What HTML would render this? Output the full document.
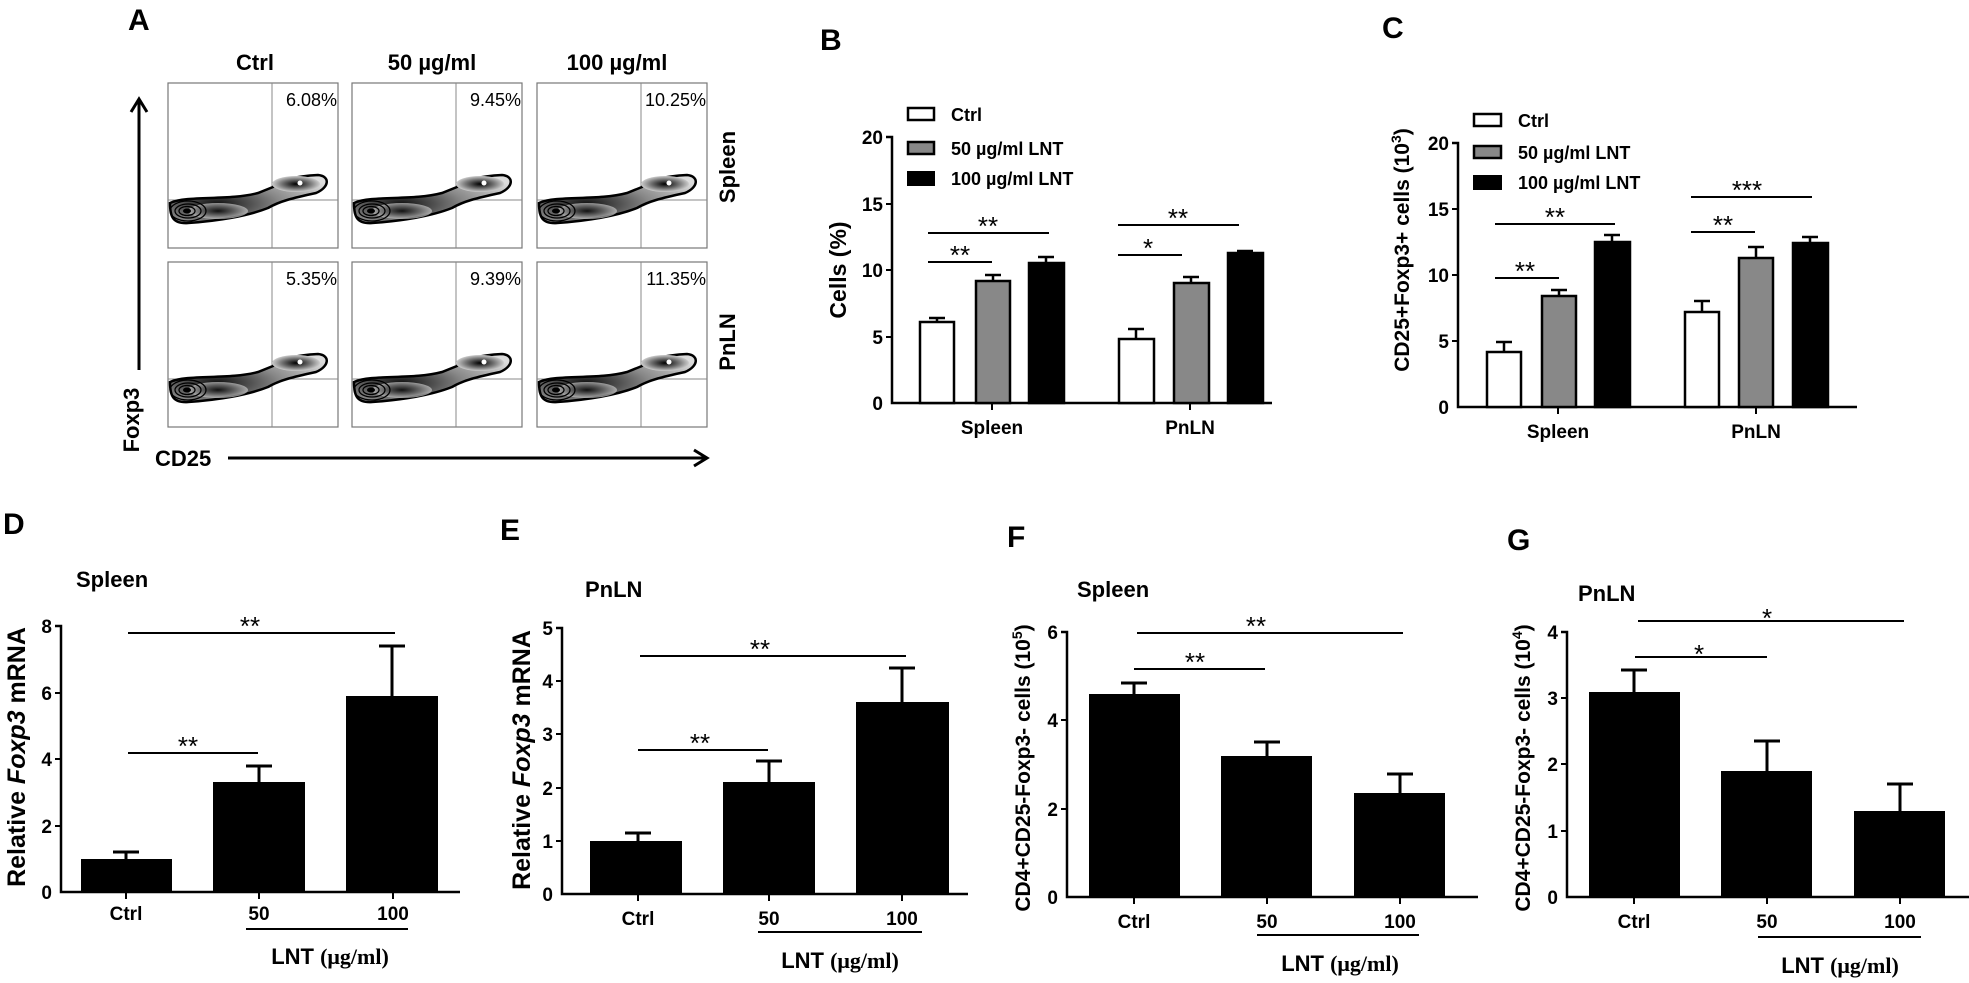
<!DOCTYPE html>
<html><head><meta charset="utf-8"><style>
html,body{margin:0;padding:0;background:#fff;}
svg{display:block;font-family:"Liberation Sans",Arial,sans-serif;}
.t{font-weight:bold;font-size:19px;}
.lg{font-weight:bold;font-size:18px;}
.ax{stroke:#000;stroke-width:2.5;fill:none;}
.br{stroke:#000;stroke-width:2;}
.lt{font-weight:bold;font-size:30px;}
.st{font-size:25px;font-weight:bold;}
.yl{font-size:21px;font-weight:bold;}
.ti{font-size:22px;font-weight:bold;}
</style></head><body>
<svg width="1969" height="983" viewBox="0 0 1969 983" xmlns="http://www.w3.org/2000/svg">
<defs>
<radialGradient id="g1" cx="0.3" cy="0.6" r="0.8"><stop offset="0" stop-color="#111"/><stop offset="0.5" stop-color="#888"/><stop offset="1" stop-color="#ddd"/></radialGradient>
<radialGradient id="g2" cx="0.5" cy="0.5" r="0.5"><stop offset="0" stop-color="#000"/><stop offset="0.6" stop-color="#777"/><stop offset="1" stop-color="#ccc"/></radialGradient>
<g id="blob">
<path d="M2,120 C20,112 60,118 90,110 L105,104 C110,97 130,93 150,92 C162,93 162,104 148,110 C125,115 112,118 100,125 C80,133 50,138 20,140 C5,141 2,134 2,120 Z" fill="url(#g1)" stroke="#000" stroke-width="2.5"/>
<ellipse cx="128" cy="101" rx="24" ry="8" fill="url(#g2)"/>
<circle cx="132" cy="100" r="2.5" fill="#fff"/>
<ellipse cx="50" cy="128" rx="30" ry="8" fill="url(#g2)" opacity="0.7"/>
<g fill="none" stroke="#000" stroke-width="1.3">
<ellipse cx="20" cy="128" rx="18" ry="10"/><ellipse cx="20" cy="128" rx="13" ry="7"/><ellipse cx="19" cy="128" rx="8" ry="4.5"/></g>
<ellipse cx="19" cy="128" rx="4" ry="2.5" fill="#000"/>
</g>
<g id="box">
<rect x="0" y="0" width="170" height="165" fill="none" stroke="#777" stroke-width="1.2"/>
<line x1="104" y1="0" x2="104" y2="165" stroke="#888" stroke-width="1"/>
<line x1="0" y1="117" x2="170" y2="117" stroke="#888" stroke-width="1"/>
<use href="#blob"/>
</g>
</defs>

<!-- Panel A -->
<text x="128" y="30" class="lt">A</text>
<text x="255" y="70" class="ti" text-anchor="middle">Ctrl</text>
<text x="432" y="70" class="ti" text-anchor="middle">50 µg/ml</text>
<text x="617" y="70" class="ti" text-anchor="middle">100 µg/ml</text>
<use href="#box" x="168" y="83"/>
<use href="#box" x="352" y="83"/>
<use href="#box" x="537" y="83"/>
<use href="#box" x="168" y="262"/>
<use href="#box" x="352" y="262"/>
<use href="#box" x="537" y="262"/>
<g font-size="18" text-anchor="end">
<text x="337" y="106">6.08%</text><text x="521" y="106">9.45%</text><text x="706" y="106">10.25%</text>
<text x="337" y="285">5.35%</text><text x="521" y="285">9.39%</text><text x="706" y="285">11.35%</text>
</g>
<text transform="translate(735,167) rotate(-90)" class="ti" text-anchor="middle">Spleen</text>
<text transform="translate(735,342) rotate(-90)" class="ti" text-anchor="middle">PnLN</text>
<line x1="139" y1="370" x2="139" y2="102" stroke="#000" stroke-width="3"/>
<polyline points="131,112 139,99 147,112" fill="none" stroke="#000" stroke-width="3"/>
<text transform="translate(139,420) rotate(-90)" class="ti" text-anchor="middle">Foxp3</text>
<text x="155" y="466" class="ti">CD25</text>
<line x1="228" y1="458" x2="705" y2="458" stroke="#000" stroke-width="3"/>
<polyline points="694,450 707,458 694,466" fill="none" stroke="#000" stroke-width="3"/>

<!-- Panel B -->
<text x="820" y="50" class="lt">B</text>
<rect x="908" y="108" width="26" height="12" fill="#fff" stroke="#000" stroke-width="2.5"/>
<rect x="908" y="142" width="26" height="12" fill="#888" stroke="#000" stroke-width="2.5"/>
<rect x="907" y="171" width="28" height="15" fill="#000"/>
<text x="951" y="121" class="lg">Ctrl</text>
<text x="951" y="155" class="lg">50 µg/ml LNT</text>
<text x="951" y="185" class="lg">100 µg/ml LNT</text>
<polyline class="ax" points="886,137 892,137 892,403 1272,403"/>
<g class="br"><line x1="886" y1="204" x2="892" y2="204"/><line x1="886" y1="270" x2="892" y2="270"/><line x1="886" y1="337" x2="892" y2="337"/><line x1="992" y1="403" x2="992" y2="410"/><line x1="1190" y1="403" x2="1190" y2="410"/></g>
<g class="t" text-anchor="end"><text x="883" y="144">20</text><text x="883" y="211">15</text><text x="883" y="277">10</text><text x="883" y="344">5</text><text x="883" y="410">0</text></g>
<text transform="translate(846,270) rotate(-90)" class="t" text-anchor="middle" style="font-size:23px">Cells (%)</text>
<text x="992" y="434" class="t" text-anchor="middle">Spleen</text>
<text x="1190" y="434" class="t" text-anchor="middle">PnLN</text>
<g stroke="#000" stroke-width="2.5">
<rect x="920" y="322" width="34" height="81" fill="#fff"/><rect x="976" y="281" width="34" height="122" fill="#888"/><rect x="1029" y="263" width="35" height="140" fill="#000"/>
<rect x="1119" y="339" width="35" height="64" fill="#fff"/><rect x="1174" y="283" width="35" height="120" fill="#888"/><rect x="1228" y="253" width="35" height="150" fill="#000"/>
<path d="M937,322V318M929,318H945 M993,281V275M985,275H1001 M1046,263V257M1038,257H1054 M1136,339V329M1128,329H1144 M1191,283V277M1183,277H1199 M1245,253V251M1237,251H1253" fill="none"/>
</g>
<g class="br"><line x1="928" y1="233" x2="1049" y2="233"/><line x1="928" y1="262" x2="992" y2="262"/><line x1="1118" y1="225" x2="1239" y2="225"/><line x1="1118" y1="255" x2="1182" y2="255"/></g>
<g font-size="26" text-anchor="middle"><text x="988" y="235">**</text><text x="960" y="264">**</text><text x="1178" y="227">**</text><text x="1148" y="257">*</text></g>

<!-- Panel C -->
<text x="1382" y="38" class="lt">C</text>
<rect x="1474" y="114" width="27" height="12" fill="#fff" stroke="#000" stroke-width="2.5"/>
<rect x="1474" y="146" width="27" height="12" fill="#888" stroke="#000" stroke-width="2.5"/>
<rect x="1473" y="175" width="29" height="15" fill="#000"/>
<text x="1518" y="127" class="lg">Ctrl</text>
<text x="1518" y="159" class="lg">50 µg/ml LNT</text>
<text x="1518" y="189" class="lg">100 µg/ml LNT</text>
<polyline class="ax" points="1452,143 1458,143 1458,407 1857,407"/>
<g class="br"><line x1="1452" y1="209" x2="1458" y2="209"/><line x1="1452" y1="275" x2="1458" y2="275"/><line x1="1452" y1="341" x2="1458" y2="341"/><line x1="1558" y1="407" x2="1558" y2="414"/><line x1="1756" y1="407" x2="1756" y2="414"/></g>
<g class="t" text-anchor="end"><text x="1449" y="150">20</text><text x="1449" y="216">15</text><text x="1449" y="282">10</text><text x="1449" y="348">5</text><text x="1449" y="414">0</text></g>
<text transform="translate(1409,250) rotate(-90)" class="yl" text-anchor="middle">CD25+Foxp3+ cells  (10<tspan dy="-8" font-size="14">3</tspan><tspan dy="8">)</tspan></text>
<text x="1558" y="438" class="t" text-anchor="middle">Spleen</text>
<text x="1756" y="438" class="t" text-anchor="middle">PnLN</text>
<g stroke="#000" stroke-width="2.5">
<rect x="1487" y="352" width="34" height="55" fill="#fff"/><rect x="1542" y="296" width="34" height="111" fill="#888"/><rect x="1595" y="242" width="35" height="165" fill="#000"/>
<rect x="1685" y="312" width="34" height="95" fill="#fff"/><rect x="1739" y="258" width="34" height="149" fill="#888"/><rect x="1793" y="243" width="35" height="164" fill="#000"/>
<path d="M1504,352V342M1496,342H1512 M1559,296V290M1551,290H1567 M1612,242V235M1604,235H1620 M1702,312V301M1694,301H1710 M1756,258V247M1748,247H1764 M1810,243V237M1802,237H1818" fill="none"/>
</g>
<g class="br"><line x1="1495" y1="224" x2="1615" y2="224"/><line x1="1495" y1="278" x2="1559" y2="278"/><line x1="1691" y1="197" x2="1812" y2="197"/><line x1="1691" y1="232" x2="1755" y2="232"/></g>
<g font-size="26" text-anchor="middle"><text x="1555" y="226">**</text><text x="1525" y="280">**</text><text x="1747" y="199">***</text><text x="1723" y="234">**</text></g>

<!-- Panel D -->
<text x="3" y="534" class="lt">D</text>
<text x="76" y="587" class="ti">Spleen</text>
<polyline class="ax" points="55,626 61,626 61,892 460,892"/>
<g class="br"><line x1="55" y1="693" x2="61" y2="693"/><line x1="55" y1="759" x2="61" y2="759"/><line x1="55" y1="826" x2="61" y2="826"/><line x1="126" y1="892" x2="126" y2="899"/><line x1="259" y1="892" x2="259" y2="899"/><line x1="393" y1="892" x2="393" y2="899"/></g>
<g class="t" text-anchor="end"><text x="52" y="633">8</text><text x="52" y="700">6</text><text x="52" y="766">4</text><text x="52" y="833">2</text><text x="52" y="899">0</text></g>
<text transform="translate(25,757) rotate(-90)" class="st" text-anchor="middle">Relative <tspan font-style="italic">Foxp3</tspan> mRNA</text>
<g fill="#000"><rect x="81" y="859" width="91" height="33"/><rect x="213" y="782" width="92" height="110"/><rect x="346" y="696" width="92" height="196"/></g>
<path d="M126,859V852M113,852H139 M259,782V766M246,766H272 M392,696V646M379,646H405" stroke="#000" stroke-width="3" fill="none"/>
<g class="br"><line x1="128" y1="633" x2="395" y2="633"/><line x1="128" y1="753" x2="258" y2="753"/><line x1="246" y1="929" x2="408" y2="929"/></g>
<g font-size="26" text-anchor="middle"><text x="250" y="635">**</text><text x="188" y="755">**</text></g>
<g class="t" text-anchor="middle"><text x="126" y="920">Ctrl</text><text x="259" y="920">50</text><text x="393" y="920">100</text></g>
<text x="330" y="964" class="ti" text-anchor="middle">LNT <tspan font-family="Liberation Serif,serif">(μg/ml)</tspan></text>

<!-- Panel E -->
<text x="500" y="540" class="lt">E</text>
<text x="585" y="597" class="ti">PnLN</text>
<polyline class="ax" points="556,628 562,628 562,894 968,894"/>
<g class="br"><line x1="556" y1="681" x2="562" y2="681"/><line x1="556" y1="734" x2="562" y2="734"/><line x1="556" y1="788" x2="562" y2="788"/><line x1="556" y1="841" x2="562" y2="841"/><line x1="638" y1="894" x2="638" y2="901"/><line x1="769" y1="894" x2="769" y2="901"/><line x1="902" y1="894" x2="902" y2="901"/></g>
<g class="t" text-anchor="end"><text x="553" y="635">5</text><text x="553" y="688">4</text><text x="553" y="741">3</text><text x="553" y="795">2</text><text x="553" y="848">1</text><text x="553" y="901">0</text></g>
<text transform="translate(530,760) rotate(-90)" class="st" text-anchor="middle">Relative <tspan font-style="italic">Foxp3</tspan> mRNA</text>
<g fill="#000"><rect x="590" y="841" width="92" height="53"/><rect x="723" y="782" width="92" height="112"/><rect x="856" y="702" width="93" height="192"/></g>
<path d="M638,841V833M625,833H651 M769,782V761M756,761H782 M902,702V668M889,668H915" stroke="#000" stroke-width="3" fill="none"/>
<g class="br"><line x1="640" y1="656" x2="906" y2="656"/><line x1="638" y1="750" x2="768" y2="750"/><line x1="758" y1="932" x2="922" y2="932"/></g>
<g font-size="26" text-anchor="middle"><text x="760" y="658">**</text><text x="700" y="752">**</text></g>
<g class="t" text-anchor="middle"><text x="638" y="925">Ctrl</text><text x="769" y="925">50</text><text x="902" y="925">100</text></g>
<text x="840" y="968" class="ti" text-anchor="middle">LNT <tspan font-family="Liberation Serif,serif">(μg/ml)</tspan></text>

<!-- Panel F -->
<text x="1007" y="547" class="lt">F</text>
<text x="1077" y="597" class="ti">Spleen</text>
<polyline class="ax" points="1061,632 1067,632 1067,897 1478,897"/>
<g class="br"><line x1="1061" y1="720" x2="1067" y2="720"/><line x1="1061" y1="809" x2="1067" y2="809"/><line x1="1134" y1="897" x2="1134" y2="904"/><line x1="1267" y1="897" x2="1267" y2="904"/><line x1="1400" y1="897" x2="1400" y2="904"/></g>
<g class="t" text-anchor="end"><text x="1058" y="639">6</text><text x="1058" y="727">4</text><text x="1058" y="816">2</text><text x="1058" y="904">0</text></g>
<text transform="translate(1030,768) rotate(-90)" class="yl" text-anchor="middle">CD4+CD25-Foxp3- cells  (10<tspan dy="-8" font-size="14">5</tspan><tspan dy="8">)</tspan></text>
<g fill="#000"><rect x="1089" y="694" width="91" height="203"/><rect x="1221" y="756" width="91" height="141"/><rect x="1354" y="793" width="91" height="104"/></g>
<path d="M1134,694V683M1121,683H1147 M1267,756V742M1254,742H1280 M1400,793V774M1387,774H1413" stroke="#000" stroke-width="3" fill="none"/>
<g class="br"><line x1="1137" y1="633" x2="1403" y2="633"/><line x1="1134" y1="669" x2="1265" y2="669"/><line x1="1257" y1="935" x2="1419" y2="935"/></g>
<g font-size="26" text-anchor="middle"><text x="1256" y="635">**</text><text x="1195" y="671">**</text></g>
<g class="t" text-anchor="middle"><text x="1134" y="928">Ctrl</text><text x="1267" y="928">50</text><text x="1400" y="928">100</text></g>
<text x="1340" y="971" class="ti" text-anchor="middle">LNT <tspan font-family="Liberation Serif,serif">(μg/ml)</tspan></text>

<!-- Panel G -->
<text x="1507" y="550" class="lt">G</text>
<text x="1578" y="601" class="ti">PnLN</text>
<polyline class="ax" points="1561,632 1567,632 1567,897 1969,897"/>
<g class="br"><line x1="1561" y1="698" x2="1567" y2="698"/><line x1="1561" y1="764" x2="1567" y2="764"/><line x1="1561" y1="831" x2="1567" y2="831"/><line x1="1634" y1="897" x2="1634" y2="904"/><line x1="1767" y1="897" x2="1767" y2="904"/><line x1="1900" y1="897" x2="1900" y2="904"/></g>
<g class="t" text-anchor="end"><text x="1558" y="639">4</text><text x="1558" y="705">3</text><text x="1558" y="771">2</text><text x="1558" y="838">1</text><text x="1558" y="904">0</text></g>
<text transform="translate(1530,768) rotate(-90)" class="yl" text-anchor="middle">CD4+CD25-Foxp3- cells  (10<tspan dy="-8" font-size="14">4</tspan><tspan dy="8">)</tspan></text>
<g fill="#000"><rect x="1589" y="692" width="91" height="205"/><rect x="1721" y="771" width="91" height="126"/><rect x="1854" y="811" width="91" height="86"/></g>
<path d="M1634,692V670M1621,670H1647 M1767,771V741M1754,741H1780 M1900,811V784M1887,784H1913" stroke="#000" stroke-width="3" fill="none"/>
<g class="br"><line x1="1638" y1="621" x2="1904" y2="621"/><line x1="1635" y1="657" x2="1767" y2="657"/><line x1="1758" y1="937" x2="1921" y2="937"/></g>
<g font-size="26" text-anchor="middle"><text x="1767" y="627">*</text><text x="1699" y="663">*</text></g>
<g class="t" text-anchor="middle"><text x="1634" y="928">Ctrl</text><text x="1767" y="928">50</text><text x="1900" y="928">100</text></g>
<text x="1840" y="973" class="ti" text-anchor="middle">LNT <tspan font-family="Liberation Serif,serif">(μg/ml)</tspan></text>
</svg>
</body></html>
